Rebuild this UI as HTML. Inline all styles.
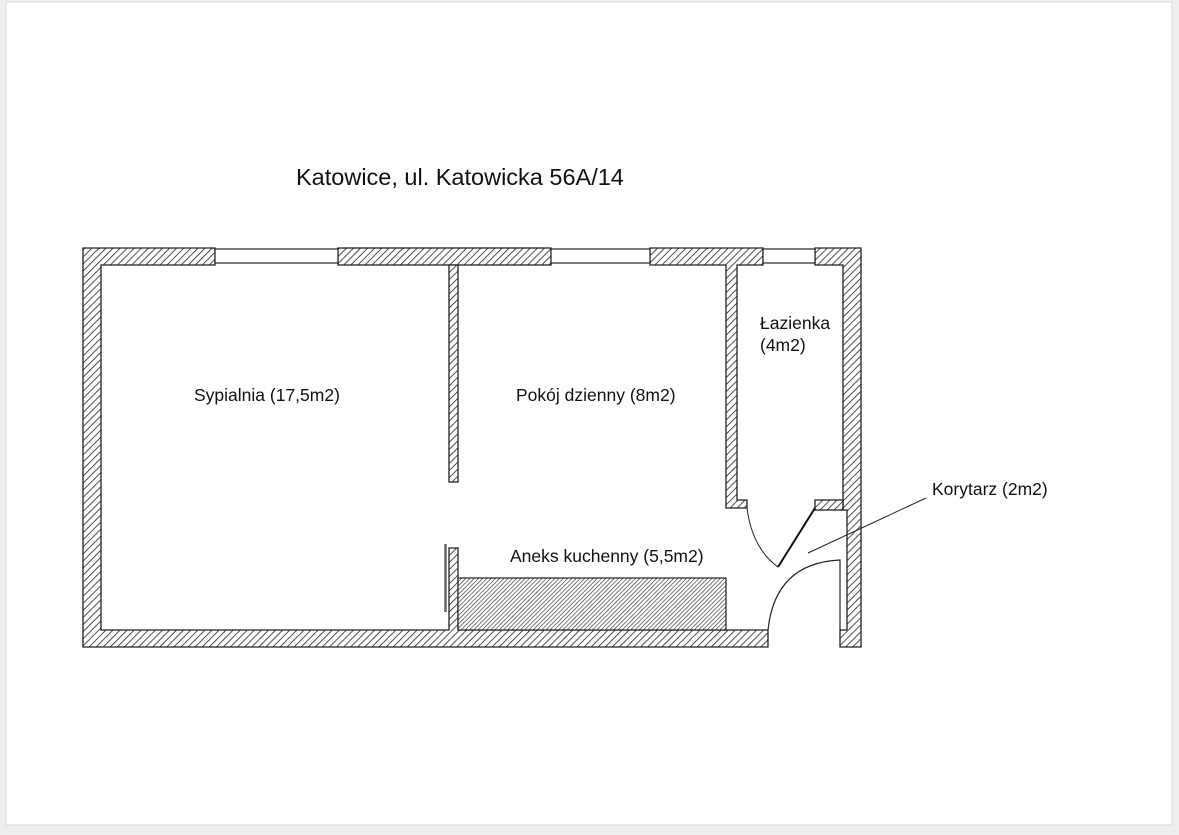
<!DOCTYPE html>
<html><head><meta charset="utf-8"><style>
html,body{margin:0;padding:0;background:#eeeef0;}
svg{display:block;}
text{font-family:"Liberation Sans",Arial,sans-serif;fill:#111;}
</style></head><body>
<svg width="1179" height="835" viewBox="0 0 1179 835" xmlns="http://www.w3.org/2000/svg">
<defs>
<pattern id="h" width="5" height="5" patternUnits="userSpaceOnUse" patternTransform="rotate(45)">
<rect width="5" height="5" fill="#fff"/><line x1="0" y1="0" x2="0" y2="5" stroke="#222" stroke-width="1.6"/>
</pattern>
<pattern id="d" width="3" height="3" patternUnits="userSpaceOnUse" patternTransform="rotate(45)">
<rect width="3" height="3" fill="#fff"/><line x1="0" y1="0" x2="0" y2="3" stroke="#333" stroke-width="1.3"/>
</pattern>
</defs>
<rect x="0" y="0" width="1179" height="835" fill="#eeeef0"/>
<rect x="6" y="2" width="1166" height="823" fill="#fff" stroke="#d8d8dc" stroke-width="1"/>
<text x="296" y="185" font-size="23.5">Katowice, ul. Katowicka 56A/14</text>
<g stroke="#222" stroke-width="1.3" fill="url(#h)">
<polygon points="83,248 215,248 215,265 101,265 101,630 449,630 449,548 458,548 458,630 768,630 768,647 83,647"/>
<rect x="338" y="248" width="213" height="17"/>
<rect x="449" y="265" width="9" height="217"/>
<polygon points="650,248 763,248 763,265 737,265 737,500 747,500 747,508 726,508 726,265 650,265"/>
<polygon points="815,248 861,248 861,647 840,647 840,630 847,630 847,510 843,510 843,265 815,265"/>
<rect x="815" y="500" width="28" height="10"/>
</g>
<g stroke="#222" stroke-width="1.2" fill="#fff">
<rect x="215" y="249" width="123" height="14"/>
<rect x="551" y="249" width="99" height="14"/>
<rect x="763" y="249" width="52" height="14"/>
</g>
<rect x="458" y="578" width="268" height="52" fill="url(#d)" stroke="#222" stroke-width="1.2"/>
<line x1="445.5" y1="544" x2="445.5" y2="612" stroke="#666" stroke-width="2.5"/>
<path d="M747,508 Q752,548 778,567" fill="none" stroke="#222" stroke-width="1"/>
<line x1="778" y1="567" x2="815" y2="508" stroke="#111" stroke-width="2"/>
<path d="M768,630 Q775,563 840,560 L840,630" fill="none" stroke="#222" stroke-width="1.2"/>
<line x1="808" y1="553" x2="926" y2="498" stroke="#222" stroke-width="1"/>
<text x="194" y="401" font-size="17.5">Sypialnia (17,5m2)</text>
<text x="516" y="401" font-size="17.5">Pokój dzienny (8m2)</text>
<text x="760" y="329" font-size="17.5">Łazienka</text>
<text x="760" y="351" font-size="17.5">(4m2)</text>
<text x="510" y="562" font-size="17.5">Aneks kuchenny (5,5m2)</text>
<text x="932" y="495" font-size="17.5">Korytarz (2m2)</text>
</svg>
</body></html>
